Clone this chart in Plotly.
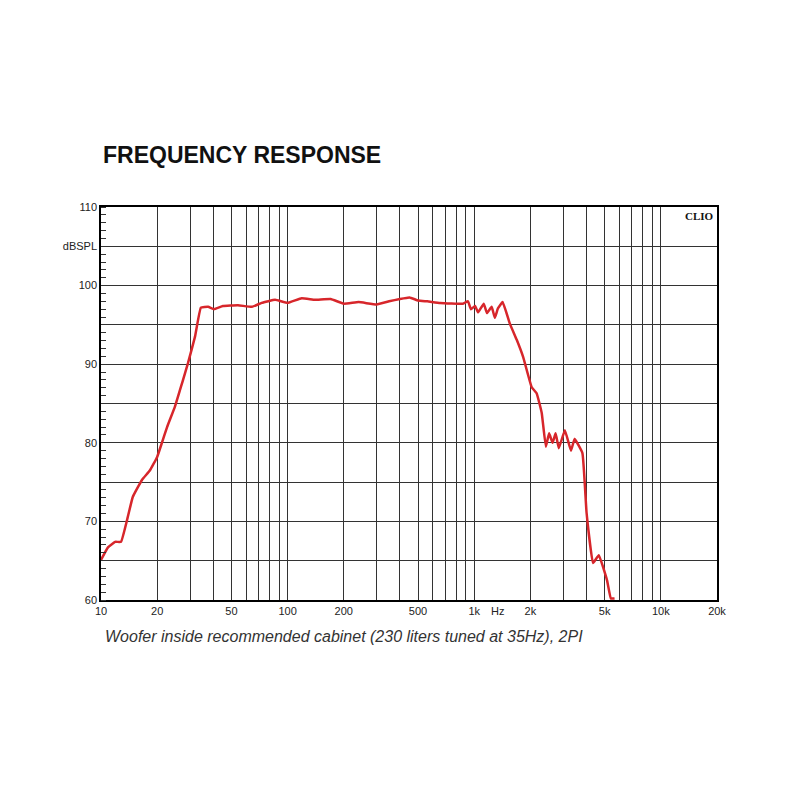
import plotly.graph_objects as go

freq = [10, 10.9, 11.9, 12.8, 13.8, 14.8, 16.6, 18.3, 20, 21.2, 22.6, 24.9, 27.2, 29.3, 31.9, 34.3,
        37.5, 40.3, 45, 54.2, 64.4, 72.6, 85.7, 100, 119, 140, 170, 200, 240, 300, 350, 400, 450,
        500, 560, 656, 870, 926, 960, 1010, 1050, 1125, 1170, 1240, 1290, 1340, 1420, 1550, 1690,
        1830, 2030, 2160, 2300, 2420, 2520, 2630, 2730, 2840, 3060, 3300, 3450, 3800, 4000, 4330,
        4650, 5150, 5400, 5650]
spl = [65.1, 66.7, 67.4, 67.4, 70.2, 73.1, 75.3, 76.5, 78.2, 80, 82, 84.6, 87.6, 90.2, 93.5, 97.2,
       97.3, 97.0, 97.4, 97.5, 97.3, 97.8, 98.2, 97.8, 98.4, 98.2, 98.3, 97.7, 97.9, 97.6, 98.0, 98.3, 98.5,
       98.1, 98.0, 97.8, 97.7, 98.0, 97.0, 97.4, 96.6, 97.7, 96.5, 97.3, 95.9, 97.1, 97.9, 95.2, 93.1,
       90.9, 87.1, 86.3, 83.8, 79.5, 81.2, 80.0, 81.2, 79.3, 81.6, 79.0, 80.5, 78.7, 71.1, 64.7,
       65.7, 62.5, 60.2, 60.2]

xgrid = [m * d for d in (10, 100, 1000, 10000) for m in range(1, 10) if m * d <= 20000] + [20000]
xlabels = {10: "10", 20: "20", 50: "50", 100: "100", 200: "200", 500: "500", 1000: "1k",
           2000: "2k", 5000: "5k", 10000: "10k", 20000: "20k"}
ygrid = list(range(60, 111, 5))
ylabels = {110: "110", 105: "dBSPL", 100: "100", 90: "90", 80: "80", 70: "70", 60: "60"}

fig = go.Figure(go.Scatter(x=freq, y=spl, mode="lines",
                           line=dict(color="#d7262b", width=2.5, shape="spline", smoothing=0.3)))
fig.update_layout(
    width=800, height=800, paper_bgcolor="white", plot_bgcolor="white",
    margin=dict(l=93, r=91, t=199, b=208), showlegend=False,
    font=dict(family="Arial, Liberation Sans", color="#222", size=11),
    xaxis=dict(type="log", range=[1, 4.30103], tickvals=xgrid,
               ticktext=[xlabels.get(v, "") for v in xgrid], showgrid=True,
               gridcolor="#333", gridwidth=1, showline=True, linecolor="black", linewidth=1.5,
               mirror=True, ticks="", zeroline=False, tickfont=dict(size=11, color="#222")),
    yaxis=dict(range=[60, 110], tickvals=ygrid, ticktext=[ylabels.get(v, "") for v in ygrid],
               showgrid=True, gridcolor="#333", gridwidth=1, showline=True, linecolor="black",
               linewidth=1.5, mirror=True, ticks="", zeroline=False,
               tickfont=dict(size=11, color="#222"),
               minor=dict(dtick=1, ticks="inside", ticklen=5, tickcolor="#333", showgrid=False)),
    annotations=[
        dict(text="<b>FREQUENCY RESPONSE</b>", x=0, y=1, xref="paper", yref="paper",
             xanchor="left", yanchor="bottom", yshift=37, showarrow=False,
             font=dict(size=23, color="#111", family="Arial, Liberation Sans")),
        dict(text="<b>CLIO</b>", x=1, y=1, xref="paper", yref="paper", xanchor="right",
             yanchor="top", showarrow=False, xshift=-1, yshift=-1,
             font=dict(size=11, family="Liberation Serif, Times New Roman", color="#111")),
        dict(text="Hz", x=3.127, y=0, xref="x", yref="paper", yanchor="top", yshift=-3,
             showarrow=False, font=dict(size=11, color="#222")),
        dict(text="<i>Woofer inside recommended cabinet (230 liters tuned at 35Hz), 2PI</i>",
             x=0, y=0, xref="paper", yref="paper", xanchor="left", yanchor="top", xshift=2,
             yshift=-26, showarrow=False, font=dict(size=16, color="#333")),
    ],
)
fig.write_html("out.html")
